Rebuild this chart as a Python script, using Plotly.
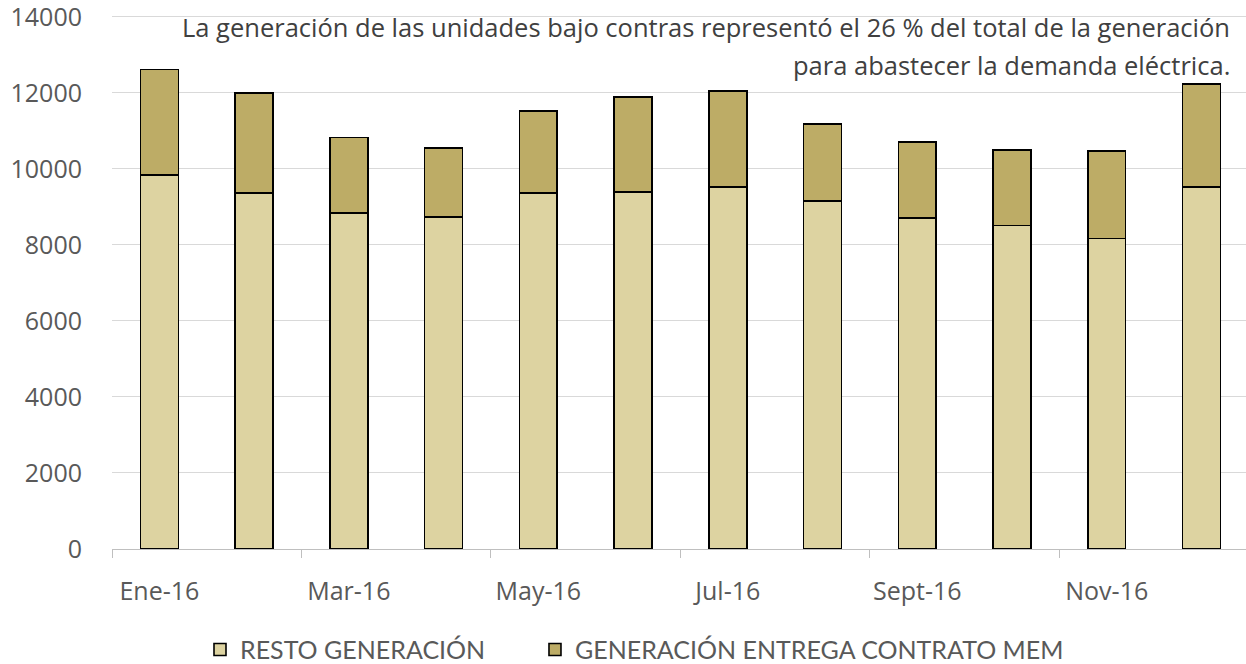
import plotly.graph_objects as go

months = ["Ene-16", "Feb-16", "Mar-16", "Abr-16", "May-16", "Jun-16",
          "Jul-16", "Ago-16", "Sept-16", "Oct-16", "Nov-16", "Dic-16"]
resto = [9834, 9368, 8842, 8729, 9361, 9387, 9518, 9150, 8711, 8511, 8168, 9518]
contrato = [2782, 2632, 1984, 1816, 2157, 2500, 2527, 2026, 2000, 1981, 2306, 2711]
y_ticks = [0, 2000, 4000, 6000, 8000, 10000, 12000, 14000]
shown_labels = ["Ene-16", "Mar-16", "May-16", "Jul-16", "Sept-16", "Nov-16"]

x_idx = list(range(len(months)))
label_pos = [months.index(m) for m in shown_labels]
boundary_pos = [p - 0.5 for p in label_pos] + [len(months) - 0.5]

FONT = "Open Sans"
C_LIGHT = "#DDD3A1"
C_DARK = "#BDAC66"

fig = go.Figure()
fig.add_trace(go.Bar(x=x_idx, y=resto, name="RESTO GENERACIÓN", legend="legend",
                     marker=dict(color=C_LIGHT, line=dict(color="black", width=1.6)),
                     width=0.4))
fig.add_trace(go.Bar(x=x_idx, y=contrato, name="GENERACIÓN ENTREGA CONTRATO MEM",
                     legend="legend2",
                     marker=dict(color=C_DARK, line=dict(color="black", width=1.6)),
                     width=0.4))
# invisible helper trace for the tick-mark axis
fig.add_trace(go.Scatter(x=[x_idx[0]], y=[resto[0]], xaxis="x2", mode="markers",
                         marker=dict(opacity=0), showlegend=False, hoverinfo="skip"))

xr = [-0.5, 11.47]
leg_font = dict(family="Lato", size=25, color="#595959")
fig.update_layout(
    width=1246, height=664,
    barmode="stack",
    plot_bgcolor="white", paper_bgcolor="white",
    margin=dict(l=112, r=0, t=13, b=115, autoexpand=False),
    font=dict(family=FONT, color="#595959", size=26),
    xaxis=dict(range=xr, tickvals=label_pos, ticktext=shown_labels,
               ticks="outside", ticklen=20, tickcolor="rgba(0,0,0,0)",
               showline=True, linecolor="#BFBFBF", linewidth=1.3,
               showgrid=False, zeroline=False, automargin=False,
               ticklabeloverflow="allow",
               tickfont=dict(family=FONT, size=25, color="#595959")),
    xaxis2=dict(range=xr, overlaying="x", anchor="y", side="bottom",
                tickvals=boundary_pos, showticklabels=False,
                ticks="outside", ticklen=8, tickcolor="#BFBFBF", tickwidth=1.3,
                showline=False, showgrid=False, zeroline=False, automargin=False),
    yaxis=dict(range=[0, 14100], tickvals=y_ticks, ticktext=[str(v) for v in y_ticks],
               showgrid=True, gridcolor="#D9D9D9", gridwidth=1.3,
               zeroline=False, showline=False, automargin=False,
               ticklabeloverflow="allow",
               ticks="outside", ticklen=24, tickcolor="rgba(0,0,0,0)",
               tickfont=dict(family=FONT, size=25, color="#595959")),
    legend=dict(orientation="h", x=0.0776, xanchor="left", y=-0.188, yanchor="middle",
                font=leg_font, itemwidth=30, bgcolor="rgba(0,0,0,0)"),
    legend2=dict(orientation="h", x=0.373, xanchor="left", y=-0.188, yanchor="middle",
                 font=leg_font, itemwidth=30, bgcolor="rgba(0,0,0,0)"),
    showlegend=True,
    bargap=0.6,
)

fig.add_annotation(text="La generación de las unidades bajo contras representó el 26 % del total de la generación",
                   xref="paper", yref="paper", x=0.9877, y=0.974,
                   xanchor="right", yanchor="middle", showarrow=False,
                   font=dict(family=FONT, size=25.5, color="#404040"))
fig.add_annotation(text="para abastecer la demanda eléctrica.",
                   xref="paper", yref="paper", x=0.9877, y=0.903,
                   xanchor="right", yanchor="middle", showarrow=False,
                   font=dict(family=FONT, size=25.5, color="#404040"))

fig.write_html("out.html", config={"displayModeBar": False},
               post_script="document.body.style.margin='0';document.body.style.overflow='hidden';")
